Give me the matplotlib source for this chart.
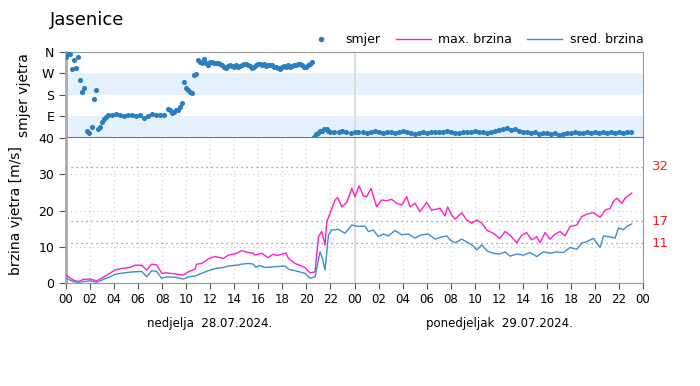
import numpy as np
import matplotlib
matplotlib.use("Agg")
import matplotlib.pyplot as plt
from matplotlib.lines import Line2D

# wind direction (deg), hours since 28.07. 00:00
dir_hours = [0.0, 0.17, 0.33, 0.5, 0.67, 0.83, 1.0, 1.17, 1.33, 1.5, 1.75, 1.92,
             2.17, 2.33, 2.5, 2.67, 2.83, 3.0, 3.17, 3.33, 3.5, 3.83, 4.17, 4.5,
             4.83, 5.17, 5.5, 5.83, 6.17, 6.5, 6.83, 7.17, 7.5, 7.83, 8.17, 8.5,
             8.67, 8.83, 9.0, 9.17, 9.33, 9.5, 9.67, 9.83, 10.0, 10.17, 10.33, 10.5,
             10.67, 10.83, 11.0, 11.17, 11.33, 11.5, 11.67, 11.83, 12.0, 12.17, 12.33,
             12.5, 12.67, 12.83, 13.0, 13.17, 13.33, 13.5, 13.67, 13.83, 14.0, 14.17,
             14.33, 14.5, 14.67, 14.83, 15.0, 15.17, 15.33, 15.5, 15.67, 15.83, 16.0,
             16.17, 16.33, 16.5, 16.67, 16.83, 17.0, 17.17, 17.33, 17.5, 17.67, 17.83,
             18.0, 18.17, 18.33, 18.5, 18.67, 18.83, 19.0, 19.17, 19.33, 19.5, 19.67,
             19.83, 20.0, 20.17, 20.33, 20.5, 20.67, 20.83, 21.0, 21.17, 21.33, 21.5,
             21.67, 21.83, 22.0, 22.33, 22.67, 23.0, 23.33, 23.67, 24.0, 24.33, 24.67,
             25.0, 25.33, 25.67, 26.0, 26.33, 26.67, 27.0, 27.33, 27.67, 28.0, 28.33,
             28.67, 29.0, 29.33, 29.67, 30.0, 30.33, 30.67, 31.0, 31.33, 31.67, 32.0,
             32.33, 32.67, 33.0, 33.33, 33.67, 34.0, 34.33, 34.67, 35.0, 35.33, 35.67,
             36.0, 36.33, 36.67, 37.0, 37.33, 37.67, 38.0, 38.33, 38.67, 39.0, 39.33,
             39.67, 40.0, 40.33, 40.67, 41.0, 41.33, 41.67, 42.0, 42.33, 42.67, 43.0,
             43.33, 43.67, 44.0, 44.33, 44.67, 45.0, 45.33, 45.67, 46.0, 46.33, 46.67, 47.0]
dir_deg = [339, 352, 352, 289, 326, 293, 339, 243, 193, 209, 29, 21,
           46, 163, 201, 38, 46, 67, 80, 88, 96, 96, 100, 96,
           94, 96, 96, 94, 96, 84, 92, 100, 96, 98, 98, 122,
           118, 104, 110, 116, 118, 130, 146, 234, 210, 200, 192, 188,
           264, 268, 326, 318, 314, 329, 314, 306, 318, 319, 312,
           316, 314, 310, 306, 296, 292, 300, 304, 301, 298, 304,
           299, 302, 306, 310, 310, 306, 300, 292, 296, 304, 310,
           310, 306, 308, 301, 304, 306, 305, 298, 296, 292, 289,
           296, 300, 299, 304, 296, 301, 305, 304, 310, 310, 306,
           299, 299, 306, 310, 319, 4, 17, 23, 29, 31, 38,
           36, 29, 25, 27, 25, 29, 25, 23, 25, 27, 25,
           23, 25, 29, 25, 21, 25, 27, 23, 25, 29, 25,
           23, 17, 21, 25, 23, 25, 27, 25, 25, 29, 25,
           23, 21, 25, 27, 25, 29, 27, 25, 23, 25, 29,
           33, 38, 42, 35, 38, 31, 27, 25, 21, 25, 17,
           23, 21, 15, 19, 12, 17, 21, 23, 25, 21, 23,
           25, 21, 25, 23, 25, 21, 25, 23, 25, 21, 27, 25]

# max. wind speed (m/s)
max_hours = [0.0, 0.61, 1.02, 1.44, 2.0, 2.55, 3.11, 3.66, 4.08, 4.63, 5.32, 5.74,
             6.3, 6.71, 7.13, 7.54, 7.96, 8.37, 9.07, 9.76, 10.18, 10.73, 10.87,
             11.29, 11.7, 11.84, 12.4, 13.09, 13.51, 14.2, 14.62, 15.17, 15.59,
             15.72, 16.3, 16.8, 17.2, 17.6, 18.0, 18.3, 18.5, 19.05, 19.88, 20.3,
             20.72, 21.0, 21.27, 21.55, 21.69, 21.96, 22.38, 22.6, 22.93, 23.35,
             23.77, 24.04, 24.38, 24.74, 25.02, 25.37, 25.84, 26.26, 26.68, 27.09,
             27.51, 27.92, 28.34, 28.62, 29.03, 29.45, 30.0, 30.42, 31.11, 31.53,
             31.75, 32.08, 32.36, 32.92, 33.33, 33.75, 34.16, 34.58, 35.0, 35.55,
             36.1, 36.52, 36.94, 37.49, 37.91, 38.32, 38.74, 39.16, 39.43, 39.85,
             40.27, 40.68, 41.1, 41.51, 41.93, 42.49, 42.9, 43.32, 43.87, 44.43,
             44.84, 45.26, 45.54, 45.82, 46.23, 46.51, 47.06]
max_speed = [2.2, 0.8, 0.4, 1.0, 1.1, 0.6, 1.6, 2.7, 3.6, 4.0, 4.3, 4.9,
             4.9, 3.6, 5.2, 5.0, 2.7, 2.8, 2.5, 2.2, 3.1, 3.8, 5.2,
             5.4, 6.3, 6.7, 7.3, 6.8, 7.7, 8.2, 8.9, 8.4, 8.2,
             7.7, 8.2, 7.0, 7.9, 7.6, 8.0, 8.3, 6.8, 5.4, 4.3, 2.8,
             3.1, 12.8, 14.2, 10.5, 16.9, 19.2, 22.9, 23.6, 21.0, 22.2,
             26.1, 23.8, 26.8, 24.0, 23.8, 26.1, 21.0, 22.9, 22.7, 23.1,
             22.0, 21.5, 23.8, 21.0, 22.0, 19.7, 22.2, 20.1, 20.6, 18.5,
             21.0, 18.8, 17.6, 19.4, 17.4, 16.5, 17.4, 16.5, 14.6, 13.7,
             12.3, 14.2, 13.2, 11.1, 13.2, 13.9, 11.9, 12.8, 11.1, 13.9,
             12.1, 13.5, 14.2, 13.0, 15.6, 16.0, 18.3, 19.0, 19.4, 18.1,
             20.1, 20.6, 22.5, 23.4, 22.0, 23.4, 24.8]

# mean wind speed (m/s)
mean_hours = [0.0, 0.61, 1.02, 1.44, 2.0, 2.55, 3.11, 3.66, 4.08, 4.63, 5.32, 5.74,
              6.3, 6.71, 7.13, 7.54, 7.96, 8.37, 9.07, 9.76, 10.18, 10.73, 11.29,
              11.84, 12.4, 13.09, 13.51, 14.2, 14.62, 15.17, 15.59, 15.8, 16.1,
              16.56, 17.39, 18.22, 18.5, 19.05, 19.88, 20.3, 20.72, 21.13, 21.33,
              21.55, 21.83, 22.1, 22.66, 23.21, 23.77, 24.32, 24.88, 25.15, 25.57,
              25.98, 26.4, 26.82, 27.37, 27.92, 28.48, 29.03, 29.58, 30.14, 30.7,
              31.25, 31.67, 31.95, 32.36, 32.92, 33.47, 33.89, 34.16, 34.58, 35.0,
              35.55, 36.1, 36.52, 36.94, 37.49, 38.05, 38.6, 39.16, 39.71, 40.27,
              40.82, 41.38, 41.93, 42.49, 42.9, 43.32, 43.87, 44.43, 44.71, 45.26,
              45.68, 45.96, 46.37, 46.65, 47.06]
mean_speed = [1.3, 0.4, 0.2, 0.4, 0.6, 0.2, 1.0, 1.7, 2.4, 2.7, 3.0, 3.1,
              3.2, 1.7, 3.4, 3.2, 1.3, 1.7, 1.6, 1.1, 1.7, 1.9, 2.7,
              3.4, 4.0, 4.3, 4.7, 4.9, 5.2, 5.4, 5.2, 4.3, 4.8,
              4.3, 4.5, 4.7, 3.8, 3.4, 2.7, 1.3, 1.7, 8.6, 6.8,
              3.6, 13.2, 14.6, 14.8, 13.7, 16.0, 15.6, 15.7, 14.2, 14.6,
              12.8, 13.5, 13.0, 14.5, 13.3, 13.5, 12.4, 13.3, 13.5, 12.1,
              12.7, 13.0, 11.9, 11.1, 12.1, 11.1, 10.2, 9.1, 10.5, 8.9,
              8.2, 8.0, 8.6, 7.4, 8.0, 7.7, 8.4, 7.3, 8.6, 8.2,
              8.6, 8.4, 9.8, 9.3, 11.0, 11.4, 12.3, 9.8, 13.0, 12.7,
              12.4, 15.2, 14.7, 15.6, 16.3]

ref_levels = [32, 17, 11]
dir_ticks = [90, 180, 270, 360]
dir_labels = ['E', 'S', 'W', 'N']
hour_labels = ['00', '02', '04', '06', '08', '10', '12', '14', '16', '18', '20', '22'] * 2 + ['00']
day_labels = ['nedjelja  28.07.2024.', 'ponedjeljak  29.07.2024.']

c_dot = '#2a7fc0'
c_max = '#ff1ec8'
c_mean = '#3b8fd0'
c_band = '#e5f1fc'
c_spine = '#999999'

fig = plt.figure(figsize=(7, 3.86), dpi=100)
ax1 = fig.add_axes([0.0943, 0.6425, 0.8243, 0.2228])
ax2 = fig.add_axes([0.0943, 0.2668, 0.8243, 0.3757])

# --- direction panel ---
ax1.axhspan(0, 90, color=c_band, lw=0, zorder=0)
ax1.axhspan(180, 270, color=c_band, lw=0, zorder=0)
ax1.axvline(24, color='#dddddd', lw=1.5, zorder=1)
ax1.plot(dir_hours, dir_deg, 'o', color=c_dot, ms=3.7, mec='none', zorder=3)
ax1.set_xlim(0, 48)
ax1.set_ylim(0, 360)
ax1.set_yticks(dir_ticks)
ax1.set_yticklabels(dir_labels)
ax1.set_xticks([])
ax1.set_ylabel('smjer vjetra', fontsize=10)
ax1.yaxis.set_label_coords(-0.06, 0.5)

# --- speed panel ---
hours_ticks = np.arange(0, 49, 2)
for h in hours_ticks:
    ax2.axvline(h, color='#cccccc', lw=0.8, ls=(0, (1, 3)), zorder=0)
for v in [10, 20, 30]:
    ax2.axhline(v, color='#cccccc', lw=0.8, ls=(0, (1, 3)), zorder=0)
for v in ref_levels:
    ax2.axhline(v, color='#888888', lw=0.9, ls=(0, (1, 3)), zorder=1)
    ax2.text(1.015, v, str(v), color='#ee2222', fontsize=9.5, va='center',
             transform=ax2.get_yaxis_transform())
ax2.axvline(24, color='#dddddd', lw=1.5, zorder=1)
ax2.plot(max_hours, max_speed, color=c_max, lw=1.0, zorder=3)
ax2.plot(mean_hours, mean_speed, color=c_mean, lw=1.0, zorder=3)
ax2.set_xlim(0, 48)
ax2.set_ylim(0, 40)
ax2.set_yticks([0, 10, 20, 30, 40])
ax2.set_xticks(hours_ticks)
ax2.set_xticklabels(hour_labels)
ax2.set_ylabel('brzina vjetra [m/s]', fontsize=10)
ax2.yaxis.set_label_coords(-0.075, 0.5)

for ax in (ax1, ax2):
    for s in ax.spines.values():
        s.set_color(c_spine)
    ax.spines['left'].set_linewidth(2)
    ax.spines['left'].set_color('#aaaaaa')
    ax.tick_params(axis='both', colors='#555555', labelcolor='black', labelsize=9,
                   length=5, width=0.8)
ax1.spines['bottom'].set_color('#555555')
ax1.spines['bottom'].set_linewidth(1.2)
ax2.spines['top'].set_visible(False)
ax2.tick_params(axis='x', length=4, pad=3, labelsize=8.5)

fig.text(0.071, 0.948, 'Jasenice', fontsize=13, va='center')
fig.text(0.30, 0.163, day_labels[0], fontsize=8.5, ha='center', va='center')
fig.text(0.713, 0.163, day_labels[1], fontsize=8.5, ha='center', va='center')

handles = [Line2D([], [], ls='none', marker='o', ms=4, mec='none', color=c_dot),
           Line2D([], [], color=c_max, lw=1),
           Line2D([], [], color=c_mean, lw=1)]
fig.legend(handles, ['smjer', 'max. brzina', 'sred. brzina'], ncol=3, frameon=False,
           fontsize=9, loc='center right', bbox_to_anchor=(0.935, 0.897),
           handlelength=2.8, columnspacing=1.2, handletextpad=0.6)

fig.savefig('out.png', dpi=100)
